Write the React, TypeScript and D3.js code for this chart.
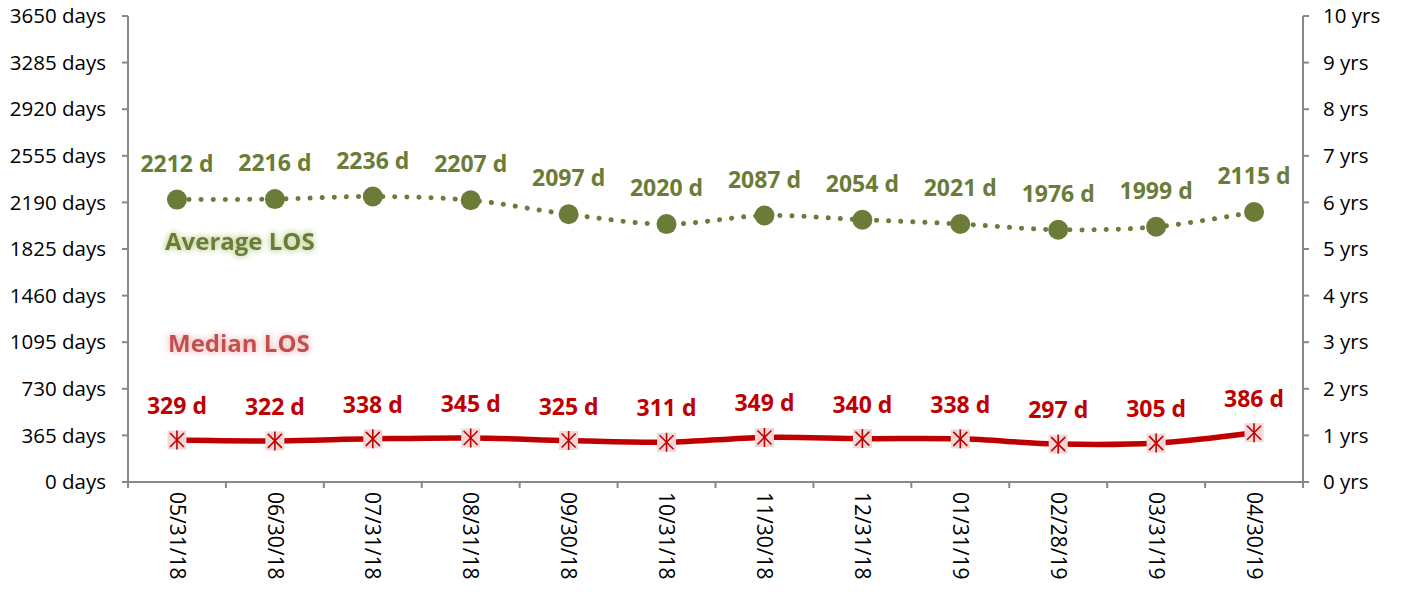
import React from "react";
import * as d3 from "d3";

const categories = ["05/31/18","06/30/18","07/31/18","08/31/18","09/30/18","10/31/18","11/30/18","12/31/18","01/31/19","02/28/19","03/31/19","04/30/19"];
const averageLOS = [2212,2216,2236,2207,2097,2020,2087,2054,2021,1976,1999,2115];
const medianLOS = [329,322,338,345,325,311,349,340,338,297,305,386];
const leftTicks = [0,365,730,1095,1460,1825,2190,2555,2920,3285,3650];
const rightTicks = [0,1,2,3,4,5,6,7,8,9,10];

const W = 1411, H = 592;
const left = 128, right = 1303, top = 16, bottom = 482;
const font = "'Open Sans', 'Noto Sans', sans-serif";
const green = "#6A7C37";
const red = "#C00000";

export default function App() {
  const x = d3.scaleBand<string>().domain(categories).range([left, right]);
  const y = d3.scaleLinear().domain([0, 3650]).range([bottom, top]);
  const yr = d3.scaleLinear().domain([0, 10]).range([bottom, top]);
  const cx = (i: number) => (x(categories[i]) as number) + x.bandwidth() / 2;
  const line = d3.line<number>().x((_, i) => cx(i)).y((d) => y(d)).curve(d3.curveCatmullRom.alpha(0.5));
  const boundaries = categories.map((c) => x(c) as number).concat([right]);

  return (
    <svg width={W} height={H} style={{ position: "absolute", left: 0, top: 0 }} fontFamily={font}>
      <defs>
        <filter id="glowG" x="-20%" y="-50%" width="140%" height="200%">
          <feGaussianBlur in="SourceAlpha" stdDeviation="3" result="b" />
          <feFlood floodColor="#c3d69b" result="c" />
          <feComposite in="c" in2="b" operator="in" result="g" />
          <feMerge><feMergeNode in="g" /><feMergeNode in="g" /><feMergeNode in="SourceGraphic" /></feMerge>
        </filter>
        <filter id="glowR" x="-20%" y="-50%" width="140%" height="200%">
          <feGaussianBlur in="SourceAlpha" stdDeviation="3" result="b" />
          <feFlood floodColor="#f2c4c3" result="c" />
          <feComposite in="c" in2="b" operator="in" result="g" />
          <feMerge><feMergeNode in="g" /><feMergeNode in="g" /><feMergeNode in="SourceGraphic" /></feMerge>
        </filter>
      </defs>
      <rect width={W} height={H} fill="#fff" />
      <g stroke="#888" strokeWidth={2}>
        <line x1={left} x2={left} y1={top} y2={bottom} />
        <line x1={right} x2={right} y1={top} y2={bottom} />
        <line x1={left} x2={right} y1={bottom} y2={bottom} />
        {leftTicks.map((t) => <line key={"l" + t} x1={left - 6} x2={left} y1={y(t)} y2={y(t)} />)}
        {rightTicks.map((t) => <line key={"r" + t} x1={right} x2={right + 6} y1={yr(t)} y2={yr(t)} />)}
        {boundaries.map((b, i) => <line key={"b" + i} x1={b} x2={b} y1={bottom} y2={bottom + 6} />)}
      </g>
      {leftTicks.map((t) => (
        <text key={"lt" + t} x={left - 22} y={y(t)} dy="0.35em" textAnchor="end" fontSize={20.5} fill="#000">{t} days</text>
      ))}
      {rightTicks.map((t) => (
        <text key={"rt" + t} x={right + 20} y={yr(t)} dy="0.35em" textAnchor="start" fontSize={20.5} fill="#000">{t} yrs</text>
      ))}
      {categories.map((c, i) => (
        <text key={"c" + c} transform={`translate(${cx(i)},${bottom + 10}) rotate(90)`} dy="0.35em" textAnchor="start" fontSize={21} fill="#000">{c}</text>
      ))}
      <path d={line(averageLOS) || ""} fill="none" stroke={green} strokeWidth={5} strokeDasharray="0.1 12" strokeLinecap="round" />
      {averageLOS.map((v, i) => (
        <circle key={"a" + i} cx={cx(i)} cy={y(v)} r={10} fill={green} />
      ))}
      {averageLOS.map((v, i) => (
        <text key={"al" + i} x={cx(i)} y={y(v) - 28} textAnchor="middle" fontSize={23} fontWeight="bold" fill={green}>{v} d</text>
      ))}
      <path d={line(medianLOS) || ""} fill="none" stroke={red} strokeWidth={5.5} />
      {medianLOS.map((v, i) => {
        const px = cx(i), py = y(v), s = 9.5;
        return (
          <g key={"m" + i}>
            <rect x={px - s} y={py - s} width={2 * s} height={2 * s} fill="#f2d7d7" />
            <g stroke={red} strokeWidth={1.6}>
              <line x1={px - 7} y1={py - 7} x2={px + 7} y2={py + 7} />
              <line x1={px - 7} y1={py + 7} x2={px + 7} y2={py - 7} />
              <line x1={px} y1={py - 9.5} x2={px} y2={py + 9.5} />
            </g>
          </g>
        );
      })}
      {medianLOS.map((v, i) => (
        <text key={"ml" + i} x={cx(i)} y={y(v) - 26} textAnchor="middle" fontSize={23} fontWeight="bold" fill={red}>{v} d</text>
      ))}
      <text x={165} y={250} fontSize={24} fontWeight="bold" fill={green} filter="url(#glowG)">Average LOS</text>
      <text x={168} y={352} fontSize={24} fontWeight="bold" fill="#C0504D" filter="url(#glowR)">Median LOS</text>
    </svg>
  );
}
